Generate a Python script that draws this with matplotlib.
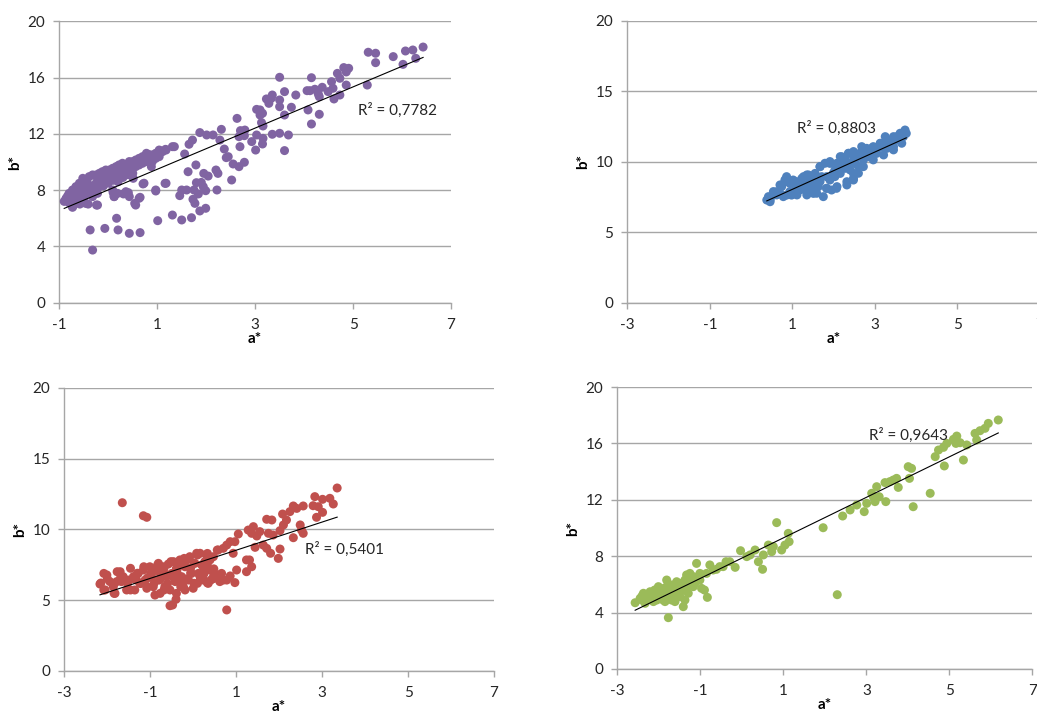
import matplotlib
matplotlib.use('Agg')
import matplotlib.pyplot as plt
import numpy as np

plt.rcParams['font.family'] = ['Lato', 'DejaVu Sans']
plt.rcParams['axes.unicode_minus'] = False

# a*, b* pairs, one list per panel
purple_pts = [
    (6.43, 18.17), (6.28, 17.37), (6.22, 17.96), (6.07, 17.89), (6.02, 16.94), (5.82, 17.49),
    (5.46, 17.73), (5.46, 17.06), (5.31, 17.80), (5.29, 15.47), (4.91, 16.66), (4.86, 16.40),
    (4.81, 16.71), (4.86, 15.47), (4.68, 16.30), (4.73, 15.95), (4.56, 15.71), (4.59, 15.24),
    (4.61, 14.48), (4.73, 14.76), (4.49, 15.00), (4.37, 15.31), (4.29, 14.83), (4.31, 14.64),
    (4.22, 15.17), (4.12, 15.07), (4.06, 15.07), (4.15, 15.99), (4.08, 13.70), (4.15, 12.70),
    (4.31, 13.39), (3.83, 14.76), (3.74, 13.89), (3.68, 11.92), (3.60, 13.34), (3.60, 15.00),
    (3.50, 16.02), (3.50, 14.41), (3.50, 13.93), (3.50, 12.04), (3.60, 10.81), (3.35, 14.76),
    (3.33, 14.53), (3.28, 14.17), (3.23, 14.48), (3.35, 11.97), (3.15, 13.46), (3.13, 12.80),
    (3.16, 12.56), (3.16, 11.68), (3.15, 11.28), (3.10, 13.70), (3.03, 13.74), (3.10, 13.34),
    (3.03, 11.92), (3.01, 10.85), (2.93, 11.45), (2.79, 12.27), (2.78, 11.87), (2.78, 9.98),
    (2.70, 12.23), (2.67, 11.80), (2.69, 11.09), (2.67, 9.67), (2.63, 13.10), (2.55, 9.86),
    (2.52, 8.72), (2.45, 10.38), (2.41, 10.31), (2.37, 10.92), (2.31, 12.32), (2.28, 11.56),
    (2.20, 9.43), (2.24, 9.19), (2.22, 8.01), (2.14, 11.92), (2.01, 11.92), (1.99, 7.96),
    (2.04, 9.00), (1.95, 9.19), (1.90, 8.55), (1.94, 8.25), (1.87, 12.09), (1.84, 7.73),
    (1.80, 8.53), (1.79, 9.79), (1.75, 8.01), (1.77, 7.06), (1.87, 6.52), (1.99, 6.71),
    (1.72, 11.56), (1.65, 11.26), (1.63, 9.31), (1.73, 7.35), (1.70, 6.04), (1.56, 10.57),
    (1.60, 8.01), (1.50, 8.01), (1.46, 7.61), (1.50, 5.88), (1.31, 6.23), (1.31, 11.09),
    (1.17, 10.90), (1.16, 8.48), (1.05, 10.81), (1.01, 5.83), (0.97, 7.94), (0.88, 9.67),
    (0.85, 10.50), (0.78, 10.62), (0.71, 8.44), (0.65, 7.49), (0.65, 4.98), (0.54, 7.06),
    (0.51, 8.84), (0.43, 4.93), (0.41, 7.82), (0.31, 7.73), (0.20, 5.17), (0.17, 6.00),
    (0.12, 7.54), (0.10, 7.82), (-0.07, 5.28), (-0.24, 6.94), (-0.22, 7.77), (-0.37, 5.17),
    (-0.32, 3.74), (-0.41, 7.01), (-0.58, 7.01), (-0.73, 6.78), (-0.86, 7.37),
    (-0.86, 7.42), (-0.80, 7.77), (-0.73, 8.01), (-0.66, 8.25), (-0.59, 8.49), (-0.52, 8.84),
    (-0.46, 8.72), (-0.39, 8.96), (-0.32, 9.08), (-0.25, 9.08), (-0.18, 9.20), (-0.12, 9.31),
    (-0.05, 9.43), (0.02, 9.43), (0.09, 9.55), (0.16, 9.67), (0.22, 9.79), (0.29, 9.91),
    (0.36, 9.79), (0.43, 10.03), (0.50, 10.03), (0.56, 10.14), (0.63, 10.26), (0.70, 10.38),
    (0.77, 10.50), (0.84, 10.50), (0.90, 10.50), (0.97, 10.62), (1.04, 10.85), (1.11, 10.74),
    (1.18, 10.85), (1.35, 11.09),
    (-0.73, 7.54), (-0.66, 7.77), (-0.59, 8.01), (-0.52, 8.13), (-0.46, 8.01), (-0.39, 8.25),
    (-0.32, 8.25), (-0.25, 8.49), (-0.18, 8.49), (-0.12, 8.72), (-0.05, 8.72), (0.02, 8.96),
    (0.09, 8.96), (0.16, 9.08), (0.22, 9.20), (0.29, 9.31), (0.36, 9.43), (0.43, 9.43),
    (0.50, 9.55), (0.56, 9.67), (0.63, 9.79), (0.70, 9.91), (0.77, 10.03), (0.84, 10.14),
    (0.90, 10.03), (0.97, 10.26), (1.04, 10.38),
    (-0.73, 6.83), (-0.59, 7.06), (-0.46, 7.06), (-0.22, 6.94), (-0.32, 7.54), (0.09, 8.01),
    (0.19, 7.77), (0.36, 7.89), (0.43, 7.54), (0.63, 7.42), (0.56, 6.94), (0.73, 8.49),
    (0.97, 8.01), (1.18, 8.49), (0.12, 7.54),
    (-0.83, 7.58), (-0.63, 8.13), (-0.42, 8.49), (-0.22, 8.84), (-0.01, 9.08), (0.19, 9.43),
    (0.39, 9.67), (0.60, 9.91), (0.80, 10.26), (1.01, 10.50),
    (-0.90, 7.20), (-0.80, 7.10), (-0.70, 7.30), (-0.60, 7.60), (-0.50, 7.50), (-0.40, 7.80),
    (-0.30, 8.00), (-0.20, 8.20), (-0.10, 8.30), (0.00, 8.50), (0.10, 8.70), (0.20, 8.60),
    (0.30, 8.90), (0.40, 9.10), (0.50, 9.20),
]

blue_pts = [
    (0.38, 7.29), (0.46, 7.17), (0.42, 7.53), (0.54, 7.64), (0.62, 7.88), (0.74, 8.24),
    (0.82, 8.59), (0.86, 8.95), (0.94, 8.47), (1.02, 8.71), (1.10, 8.59), (0.86, 7.64),
    (0.98, 7.64), (1.06, 8.00), (1.27, 8.95), (1.23, 8.36), (1.35, 7.88), (1.47, 8.12),
    (1.51, 7.76), (1.59, 8.59), (1.55, 9.18), (1.67, 9.66), (1.75, 7.53), (1.83, 8.12),
    (1.95, 8.00), (2.07, 8.12), (1.91, 8.71), (1.91, 9.89), (2.03, 9.42), (2.16, 9.78),
    (2.16, 9.18), (2.28, 9.54), (2.32, 8.59), (2.36, 10.60), (2.44, 9.89), (2.48, 9.18),
    (2.56, 10.36), (2.60, 9.66), (2.68, 11.08), (2.72, 10.13), (2.80, 10.72), (2.92, 10.96),
    (3.04, 10.60), (3.13, 11.31), (3.25, 11.79), (3.29, 10.96), (3.37, 11.43), (3.45, 11.08),
    (3.53, 11.79), (3.65, 12.02), (3.73, 12.26), (3.76, 12.02),
    (1.43, 8.71), (1.71, 8.95), (2.12, 9.66), (2.28, 10.13), (2.40, 9.42), (2.52, 9.89),
    (2.64, 10.60), (2.03, 8.95), (2.84, 10.36), (2.96, 10.60), (3.17, 11.08), (3.49, 11.55),
    (3.61, 11.67), (1.15, 8.36), (0.70, 7.76), (1.31, 8.36), (1.39, 9.07), (1.63, 8.24),
    (2.48, 8.71), (2.20, 10.36),
    (0.54, 7.89), (0.70, 8.36), (0.82, 8.72), (1.03, 8.48), (1.23, 8.83), (1.35, 9.07),
    (1.47, 8.95), (1.67, 9.66), (1.79, 9.90), (1.91, 10.02), (2.08, 9.90), (2.16, 10.37),
    (2.36, 10.61), (2.48, 10.73), (2.64, 10.61), (2.80, 10.96), (2.96, 11.08), (3.13, 11.32),
    (3.29, 11.56), (3.45, 11.79), (3.61, 12.03),
    (0.62, 7.65), (0.94, 7.89), (1.19, 8.01), (1.43, 8.24), (1.67, 8.60), (1.83, 8.95),
    (1.99, 9.19), (2.16, 9.43), (2.32, 9.66), (2.48, 10.14), (2.64, 10.37), (2.80, 10.49),
    (3.04, 10.85), (3.21, 11.08), (3.37, 11.32), (3.53, 11.56), (3.69, 11.79),
    (0.46, 7.30), (0.78, 7.53), (1.11, 7.65), (1.35, 7.65), (1.59, 7.77), (1.83, 8.12),
    (2.08, 8.24), (2.32, 8.36), (2.48, 8.83), (2.60, 9.19), (2.72, 9.66), (2.96, 10.14),
    (3.21, 10.49), (3.45, 10.85), (3.65, 11.32),
]

red_pts = [
    (-1.65, 11.88), (-1.16, 10.96), (-1.08, 10.85), (0.78, 4.31), (-0.54, 4.61), (-0.48, 4.66),
    (-0.40, 5.06),
    (3.35, 12.92), (2.83, 12.31), (3.18, 12.19), (3.01, 12.12), (3.26, 11.79), (2.79, 11.67),
    (2.91, 11.60), (3.01, 11.20), (2.87, 10.85), (2.56, 11.65), (2.33, 11.65), (2.41, 11.48),
    (2.25, 11.25), (2.08, 11.08), (2.17, 10.66), (2.10, 10.31), (2.02, 9.91), (1.71, 10.71),
    (1.83, 10.66), (1.75, 9.72), (1.86, 9.60), (1.55, 9.84), (1.40, 10.19), (1.28, 9.95),
    (1.36, 9.72), (1.48, 9.53), (1.05, 9.67), (2.49, 10.31), (2.56, 9.72), (2.52, 9.95),
    (2.33, 9.41), (2.02, 8.61), (1.98, 7.95), (1.71, 8.66), (1.80, 8.31), (1.63, 8.89),
    (1.44, 8.73), (1.31, 7.84), (1.24, 7.84), (1.36, 7.36), (1.24, 7.01), (1.01, 7.13),
    (0.97, 6.24), (0.86, 6.71), (0.93, 8.31), (0.86, 9.13), (0.97, 9.13), (0.78, 8.89),
    (0.58, 8.54), (0.70, 8.66), (0.66, 6.89), (0.70, 6.42), (0.78, 6.42), (0.58, 6.78),
    (0.62, 6.31), (0.47, 6.66), (0.39, 7.84), (0.47, 8.07), (0.31, 8.19), (0.16, 8.31),
    (0.27, 7.72), (0.39, 7.13), (0.35, 6.19), (0.24, 6.42), (0.16, 6.66),
    (-2.17, 6.14), (-2.05, 5.72), (-2.01, 6.78), (-1.94, 6.31), (-1.86, 5.95), (-1.82, 5.48),
    (-1.70, 7.01), (-1.67, 6.31), (-1.55, 5.72), (-1.51, 6.42), (-1.39, 6.66), (-1.36, 5.72),
    (-1.28, 6.89), (-1.24, 6.19), (-1.16, 7.13), (-1.12, 6.42), (-1.08, 5.84), (-1.01, 7.36),
    (-0.97, 6.66), (-0.93, 5.95), (-0.89, 5.36), (-0.81, 7.01), (-0.79, 6.42), (-0.77, 5.48),
    (-0.70, 7.36), (-0.66, 5.95), (-0.62, 6.66), (-0.58, 7.55), (-0.54, 5.72), (-0.50, 6.89),
    (-0.46, 7.72), (-0.42, 6.31), (-0.39, 7.25), (-0.31, 7.84), (-0.27, 6.66), (-0.23, 5.95),
    (-0.19, 7.36), (-0.15, 7.84), (-0.11, 6.42), (-0.08, 8.07), (-0.04, 6.89), (0.00, 5.84),
    (0.04, 7.60), (0.08, 8.31), (0.12, 6.89), (0.20, 7.48), (-0.93, 7.13), (-0.81, 7.60),
    (-1.32, 6.42), (-1.63, 6.66), (-1.78, 6.31), (-0.39, 5.48), (-0.19, 5.72),
    (-2.08, 6.89), (-1.77, 7.01), (-1.46, 7.25), (-1.15, 7.36), (-0.83, 7.48), (-0.52, 7.72),
    (-0.21, 7.95), (0.10, 8.19), (0.33, 8.30), (0.56, 8.54),
    (-2.08, 5.72), (-1.84, 5.48), (-1.46, 5.72), (-1.07, 5.95), (-0.68, 5.72), (-0.29, 5.95),
    (0.10, 6.19), (0.41, 6.42),
    (-2.00, 6.52), (-1.69, 6.58), (-1.38, 6.50), (-1.07, 6.56), (-0.76, 6.52), (-0.45, 6.57),
    (-0.14, 6.51), (0.17, 6.55), (0.48, 6.53),
    (-2.15, 6.21), (-1.84, 6.17), (-1.53, 6.22), (-1.22, 6.18), (-0.91, 6.20), (-0.60, 6.16),
    (-0.29, 6.21), (0.02, 6.19), (0.33, 6.22),
    (-1.30, 6.90), (-0.99, 6.86), (-0.68, 6.91), (-0.37, 6.88), (-0.06, 6.92), (0.25, 6.87),
    (-0.68, 7.26), (-0.37, 7.22), (-0.06, 7.27), (0.25, 7.24), (0.48, 7.21),
    (-0.29, 7.60), (0.02, 7.62), (0.33, 7.58),
]

green_pts = [
    (6.18, 17.66), (5.94, 17.42), (5.86, 17.07), (5.74, 16.90), (5.66, 16.24), (5.62, 16.71),
    (5.42, 15.89), (5.34, 14.82), (5.26, 16.05), (5.18, 16.52), (5.10, 16.29), (5.16, 16.00),
    (4.94, 16.00), (4.86, 15.72), (4.74, 15.53), (4.66, 15.06), (4.88, 14.40), (4.54, 12.46),
    (4.13, 11.51), (4.09, 14.23), (4.01, 14.35), (4.04, 13.52), (3.73, 13.52), (3.77, 12.88),
    (3.65, 13.40), (3.57, 13.29), (3.45, 13.22), (3.47, 11.87), (3.25, 12.93), (3.17, 12.22),
    (3.13, 12.46), (3.31, 12.22), (3.21, 11.87), (3.01, 11.75), (2.95, 11.16), (2.77, 11.63),
    (2.61, 11.28), (2.43, 10.85), (2.30, 5.27), (1.96, 10.02), (1.12, 9.62), (1.14, 9.03),
    (1.04, 8.79), (0.96, 8.44), (0.84, 10.38), (0.76, 8.68), (0.72, 8.32), (0.64, 8.79),
    (0.52, 8.09), (0.50, 7.07), (0.40, 7.61), (0.32, 8.44), (0.20, 8.09), (0.12, 7.97),
    (-0.03, 8.39), (-0.16, 7.21), (-0.38, 7.61), (-0.53, 7.26), (-0.61, 7.07), (-0.77, 7.38),
    (-0.83, 5.08), (-0.90, 5.60), (-1.01, 6.78), (-1.09, 7.49), (-1.05, 6.31), (-1.17, 5.84),
    (-1.25, 6.31), (-1.37, 4.89), (-1.33, 6.67), (-1.37, 5.60), (-1.41, 4.42), (-1.77, 3.64),
    (-2.57, 4.70), (-2.45, 5.01), (-2.37, 5.37), (-2.33, 4.66), (-2.25, 5.13), (-2.21, 5.48),
    (-2.13, 4.78), (-2.09, 5.37), (-2.01, 5.84), (-1.97, 5.01), (-1.93, 5.48), (-1.85, 4.78),
    (-1.81, 6.31), (-1.77, 5.60), (-1.73, 5.13), (-1.69, 5.96), (-1.65, 5.37), (-1.61, 4.78),
    (-1.57, 6.19), (-1.53, 5.60), (-1.49, 5.13), (-1.45, 6.08), (-1.37, 6.31), (-1.33, 5.60),
    (-1.29, 5.37), (-1.25, 6.78), (-1.17, 6.55), (-1.13, 6.08), (-1.89, 5.37), (-2.05, 4.89),
    (-1.69, 4.89), (-2.17, 5.13), (-2.41, 4.89), (-1.81, 5.84), (-1.57, 5.37), (-1.41, 5.84),
    (-0.97, 5.72), (-1.01, 6.31), (-0.85, 6.78), (-0.69, 7.02), (-0.45, 7.26), (-0.29, 7.61),
    (-2.40, 5.20), (-2.30, 5.00), (-2.20, 5.30), (-2.00, 5.10), (-1.90, 5.70), (-1.80, 5.20),
    (-1.70, 5.50), (-1.60, 5.80), (-1.50, 5.40), (-1.40, 6.00), (-1.30, 5.90), (-1.20, 6.20),
    (-1.10, 6.40), (-2.10, 5.60), (-1.90, 4.90),
]

r2_labels = ['R² = 0,7782', 'R² = 0,8803', 'R² = 0,5401', 'R² = 0,9643']
colors = ['#8064A2', '#4F81BD', '#C0504D', '#9BBB59']

W, H = 1037, 711
fig = plt.figure(figsize=(W / 100, H / 100), dpi=100)

# axes boxes in pixels: left, top, right, bottom
boxes = [(59.3, 21.3, 451, 302.7), (627.3, 21, 1040, 302.7),
         (64.3, 387.7, 494, 671), (617.3, 387, 1032.3, 669)]
xlims = [(-1, 7), (-3, 7), (-3, 7), (-3, 7)]
yticks = [np.arange(0, 21, 4), np.arange(0, 21, 5), np.arange(0, 21, 5), np.arange(0, 21, 4)]
r2_pos = [(5.1, 13.7), (1.1, 12.38), (2.6, 8.61), (3.07, 16.6)]
grid_c = '#A6A6A6'

for i, pts in enumerate([purple_pts, blue_pts, red_pts, green_pts]):
    l, t, r, b = boxes[i]
    ax = fig.add_axes([l / W, 1 - b / H, (r - l) / W, (b - t) / H])
    arr = np.array(pts)
    a, bb = arr[:, 0], arr[:, 1]
    ax.scatter(a, bb, s=42, color=colors[i], edgecolors='none', zorder=3)

    # linear trendline, as Excel draws it across the data range
    k, c = np.polyfit(a, bb, 1)
    xs = np.array([a.min(), a.max()])
    ax.plot(xs, k * xs + c, color='black', lw=0.8, zorder=4)

    ax.text(r2_pos[i][0], r2_pos[i][1], r2_labels[i], fontsize=11, va='center',
            ha='left', color='#262626', zorder=5)

    ax.set_xlim(*xlims[i])
    ax.set_ylim(0, 20)
    ax.set_xticks(np.arange(xlims[i][0], 8, 2))
    ax.set_yticks(yticks[i])
    ax.yaxis.grid(True, color=grid_c, lw=1)
    ax.set_axisbelow(True)
    for s in ['top', 'right']:
        ax.spines[s].set_visible(False)
    for s in ['left', 'bottom']:
        ax.spines[s].set_color(grid_c)
        ax.spines[s].set_linewidth(1)
    ax.tick_params(colors=grid_c, labelcolor='#262626', labelsize=11, length=4, width=1)
    ax.tick_params(axis='y', pad=6)
    ax.tick_params(axis='x', pad=7)
    ax.set_xlabel('a*', fontsize=11, fontweight='bold', labelpad=0)
    ax.set_ylabel('b*', fontsize=11, fontweight='bold', labelpad=4)

fig.savefig('out.png', dpi=100)
